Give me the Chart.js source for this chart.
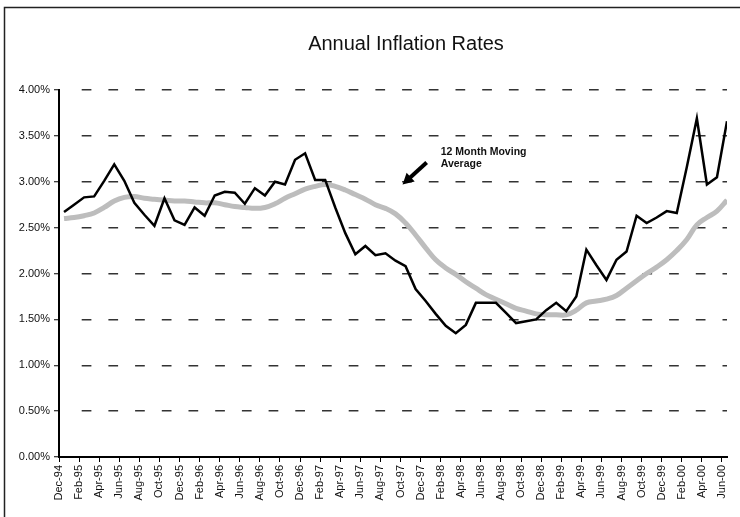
<!DOCTYPE html>
<html>
<head>
<meta charset="utf-8">
<title>Annual Inflation Rates</title>
<script src="https://cdn.jsdelivr.net/npm/chart.js@4.4.0/dist/chart.umd.min.js"></script>
<style>
  html, body { margin: 0; padding: 0; background: #fff; }
  canvas { display: block; }
</style>
</head>
<body>
<canvas id="myChart" width="740" height="517"></canvas>
<script>
// monthly categories, Dec-94 .. Jun-00
const months = [
  'Dec-94',
  'Jan-95', 'Feb-95', 'Mar-95', 'Apr-95', 'May-95', 'Jun-95', 'Jul-95', 'Aug-95', 'Sep-95', 'Oct-95', 'Nov-95', 'Dec-95',
  'Jan-96', 'Feb-96', 'Mar-96', 'Apr-96', 'May-96', 'Jun-96', 'Jul-96', 'Aug-96', 'Sep-96', 'Oct-96', 'Nov-96', 'Dec-96',
  'Jan-97', 'Feb-97', 'Mar-97', 'Apr-97', 'May-97', 'Jun-97', 'Jul-97', 'Aug-97', 'Sep-97', 'Oct-97', 'Nov-97', 'Dec-97',
  'Jan-98', 'Feb-98', 'Mar-98', 'Apr-98', 'May-98', 'Jun-98', 'Jul-98', 'Aug-98', 'Sep-98', 'Oct-98', 'Nov-98', 'Dec-98',
  'Jan-99', 'Feb-99', 'Mar-99', 'Apr-99', 'May-99', 'Jun-99', 'Jul-99', 'Aug-99', 'Sep-99', 'Oct-99', 'Nov-99', 'Dec-99',
  'Jan-00', 'Feb-00', 'Mar-00', 'Apr-00', 'May-00', 'Jun-00'
];

// annual inflation rate, %
const inflation = [
  2.67,
  2.75, 2.83, 2.84, 3.01, 3.19, 3.01, 2.77, 2.64, 2.52, 2.82, 2.58, 2.53,
  2.72, 2.63, 2.85, 2.89, 2.88, 2.76, 2.93, 2.85, 3.00, 2.97, 3.24, 3.31,
  3.02, 3.02, 2.72, 2.44, 2.21, 2.30, 2.20, 2.22, 2.14, 2.08, 1.83, 1.70,
  1.56, 1.43, 1.35, 1.44, 1.68, 1.68, 1.68, 1.57, 1.46, 1.48, 1.50, 1.60,
  1.68, 1.59, 1.75, 2.26, 2.09, 1.93, 2.15, 2.24, 2.63, 2.55, 2.61, 2.68,
  2.66, 3.16, 3.69, 2.97, 3.05, 3.66
];

// 12 month moving average, %
const movingAvg = [
  2.60,
  2.61, 2.63, 2.66, 2.72, 2.79, 2.83, 2.84, 2.82, 2.81, 2.80, 2.79, 2.79,
  2.78, 2.77, 2.77, 2.75, 2.73, 2.72, 2.71, 2.72, 2.76, 2.82, 2.87, 2.92,
  2.95, 2.97, 2.95, 2.91, 2.86, 2.81, 2.75, 2.71, 2.65, 2.55, 2.42, 2.28,
  2.15, 2.06, 1.99, 1.91, 1.84, 1.77, 1.72, 1.67, 1.62, 1.59, 1.56, 1.55,
  1.55, 1.55, 1.60, 1.68, 1.70, 1.72, 1.76, 1.84, 1.92, 2.00, 2.07, 2.15,
  2.25, 2.37, 2.53, 2.61, 2.68, 2.80
];

const yMin = 0;
const yMax = 4;
const yStep = 0.5;
const labelStep = 2;

const fontFamily = '"Liberation Sans", Arial, Helvetica, sans-serif';

// each month sits in the middle of its slot, ticks on the slot edges
const toPoints = arr => arr.map((v, i) => ({ x: i + 0.5, y: v }));

// gap before the first dash, then regular dashes
const gridDash = [0, 21.7];
for (let i = 0; i < 26; i++) gridDash.push(9.7, 17);

const decorations = {
  id: 'decorations',
  afterDraw(chart) {
    const { ctx, chartArea } = chart;
    const xs = chart.scales.x;
    const ys = chart.scales.y;
    ctx.save();

    // outer frame
    ctx.strokeStyle = '#222';
    ctx.lineWidth = 1.5;
    ctx.strokeRect(4.5, 7.5, chart.width + 20, chart.height + 20);

    // title
    ctx.fillStyle = '#111';
    ctx.font = '20px ' + fontFamily;
    ctx.textAlign = 'center';
    ctx.textBaseline = 'alphabetic';
    ctx.fillText('Annual Inflation Rates', (chartArea.left + chartArea.right) / 2 + 13, 50);

    // annotation
    ctx.font = 'bold 10.5px ' + fontFamily;
    ctx.textAlign = 'left';
    ctx.fillText('12 Month Moving', xs.getPixelForValue(38), ys.getPixelForValue(3.29));
    ctx.fillText('Average', xs.getPixelForValue(38), ys.getPixelForValue(3.16));

    // arrow
    const tx = xs.getPixelForValue(36.6), ty = ys.getPixelForValue(3.21);
    const hx = xs.getPixelForValue(34.2), hy = ys.getPixelForValue(2.97);
    const len = Math.hypot(hx - tx, hy - ty);
    const ux = (hx - tx) / len, uy = (hy - ty) / len;
    const bx = hx - ux * 11, by = hy - uy * 11;
    ctx.strokeStyle = '#000';
    ctx.lineWidth = 4;
    ctx.beginPath();
    ctx.moveTo(tx, ty);
    ctx.lineTo(bx + ux, by + uy);
    ctx.stroke();
    ctx.fillStyle = '#000';
    ctx.beginPath();
    ctx.moveTo(hx, hy);
    ctx.lineTo(bx - uy * 6, by + ux * 6);
    ctx.lineTo(bx + uy * 6, by - ux * 6);
    ctx.closePath();
    ctx.fill();

    ctx.restore();
  }
};

const ctx = document.getElementById('myChart').getContext('2d');
const myChart = new Chart(ctx, {
  type: 'line',
  data: {
    datasets: [
      {
        label: 'Annual Inflation Rate',
        data: toPoints(inflation),
        borderColor: '#000',
        borderWidth: 2.5,
        pointRadius: 0,
        tension: 0,
        fill: false
      },
      {
        label: '12 Month Moving Average',
        data: toPoints(movingAvg),
        borderColor: '#bdbdbd',
        borderWidth: 5,
        pointRadius: 0,
        tension: 0.4,
        fill: false
      }
    ]
  },
  options: {
    responsive: false,
    animation: false,
    devicePixelRatio: 1,
    layout: {
      padding: { top: 90, right: 13, left: 0, bottom: 0 }
    },
    scales: {
      x: {
        type: 'linear',
        min: 0,
        max: months.length - 0.5,
        afterFit: s => { s.height = 60; },
        grid: {
          drawOnChartArea: false,
          drawTicks: true,
          tickLength: 5,
          tickColor: '#000',
          tickWidth: 1
        },
        border: { color: '#000', width: 2 },
        ticks: {
          stepSize: labelStep,
          includeBounds: false,
          autoSkip: false,
          minRotation: 90,
          maxRotation: 90,
          padding: 3,
          color: '#111',
          font: { family: fontFamily, size: 11 },
          callback: v => months[Math.round(v)]
        }
      },
      y: {
        min: yMin,
        max: yMax,
        afterFit: s => { s.width = 59; },
        grid: {
          color: c => (c.tick && c.tick.value === 0) ? 'rgba(0,0,0,0)' : '#333',
          lineWidth: 1.5,
          tickLength: 5,
          tickColor: '#000',
          tickWidth: 1
        },
        border: { color: '#000', width: 2, dash: gridDash },
        ticks: {
          stepSize: yStep,
          padding: 4,
          color: '#111',
          font: { family: fontFamily, size: 11 },
          callback: v => v.toFixed(2) + '%'
        }
      }
    },
    plugins: {
      legend: { display: false },
      tooltip: { enabled: false },
      title: { display: false }
    }
  },
  plugins: [decorations]
});
</script>
</body>
</html>
